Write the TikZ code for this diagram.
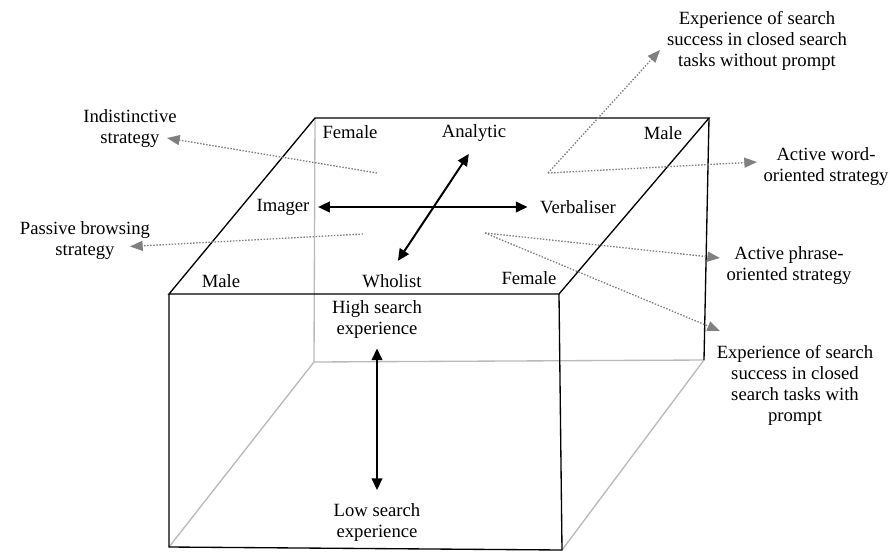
\documentclass[tikz,border=0pt]{standalone}
\usepackage{fontspec}
\setmainfont{Liberation Serif}
\usetikzlibrary{arrows.meta}
\begin{document}
\begin{tikzpicture}[x=0.75pt, y=-0.75pt, line width=1pt,
    lbl/.style={font=\fontsize{14pt}{15.75pt}\selectfont, align=center, inner sep=3pt},
    hid/.style={black!27},
    dbl/.style={{Triangle[length=8.8pt,width=8pt]}-{Triangle[length=8.8pt,width=8pt]}, line width=1.5pt},
    pointer/.style={-{Triangle[length=9.5pt,width=7.5pt]}, black!50, dash pattern=on 1.1pt off 1.2pt}]
  \useasboundingbox (0,0) rectangle (890,551);
  % cube corners
  \coordinate (tbl) at (315,118);
  \coordinate (tbr) at (709,118);
  \coordinate (tfl) at (169,294);
  \coordinate (tfr) at (559,294);
  \coordinate (bbl) at (314,362);
  \coordinate (bbr) at (704,360);
  \coordinate (bfl) at (169,547);
  \coordinate (bfr) at (562,550);
  % hidden edges
  \draw[hid] (tbl) -- (bbl) -- (bbr);
  \draw[hid] (bbl) -- (bfl);
  \draw[hid] (bbr) -- (bfr);
  % visible edges
  \draw (tbl) -- (tbr) -- (tfr) -- (tfl) -- cycle;
  \draw (tfl) -- (bfl) -- (bfr) -- (tfr);
  \draw (tbr) -- (bbr);
  % labels on the cube
  \node[lbl] (femaleTL) at (350,132) {Female};
  \node[lbl] (analytic) at (474,133) {Analytic};
  \node[lbl] (maleTR) at (663,133) {Male};
  \node[lbl] (imager) at (283,207) {Imager};
  \node[lbl] (verbaliser) at (578,207) {Verbaliser};
  \node[lbl] (maleFL) at (221,281) {Male};
  \node[lbl] (wholist) at (392,281) {Wholist};
  \node[lbl] (femaleFR) at (529,278) {Female};
  \node[lbl] (high) at (377,319.5) {High search\\experience};
  \node[lbl] (low) at (377,523) {Low search\\experience};
  % labels outside
  \node[lbl] (indist) at (130,129) {Indistinctive\\strategy};
  \node[lbl] (passive) at (85,240.5) {Passive browsing\\strategy};
  \node[lbl] (expNo) at (757,41) {Experience of search\\success in closed search\\tasks without prompt};
  \node[lbl] (actWord) at (826,166.5) {Active word-\\oriented strategy};
  \node[lbl] (actPhrase) at (789,265.5) {Active phrase-\\oriented strategy};
  \node[lbl] (expWith) at (795,385.5) {Experience of search\\success in closed\\search tasks with\\prompt};
  % style axes
  \draw[dbl, shorten <=3pt, shorten >=6pt] (imager) -- (verbaliser);
  \draw[dbl, shorten <=8pt, shorten >=7pt] (wholist.north) -- (analytic.south);
  \draw[dbl, shorten <=4pt, shorten >=7pt] (high.south) -- (low.north);
  % strategy pointers
  \coordinate (pIndist) at (377,173);
  \coordinate (tIndist) at (167,138);
  \coordinate (pPassive) at (363,234);
  \coordinate (tPassive) at (130,246.5);
  \coordinate (pUpper) at (548,173);
  \coordinate (tExpNo) at (660,50);
  \coordinate (tActWord) at (757,162);
  \coordinate (pLower) at (485,233);
  \coordinate (tActPhrase) at (720,258);
  \coordinate (tExpWith) at (720,331);
  \draw[pointer] (pIndist) -- (tIndist);
  \draw[pointer] (pPassive) -- (tPassive);
  \draw[pointer] (pUpper) -- (tExpNo);
  \draw[pointer] (pUpper) -- (tActWord);
  \draw[pointer] (pLower) -- (tActPhrase);
  \draw[pointer] (pLower) -- (tExpWith);
\end{tikzpicture}
\end{document}
